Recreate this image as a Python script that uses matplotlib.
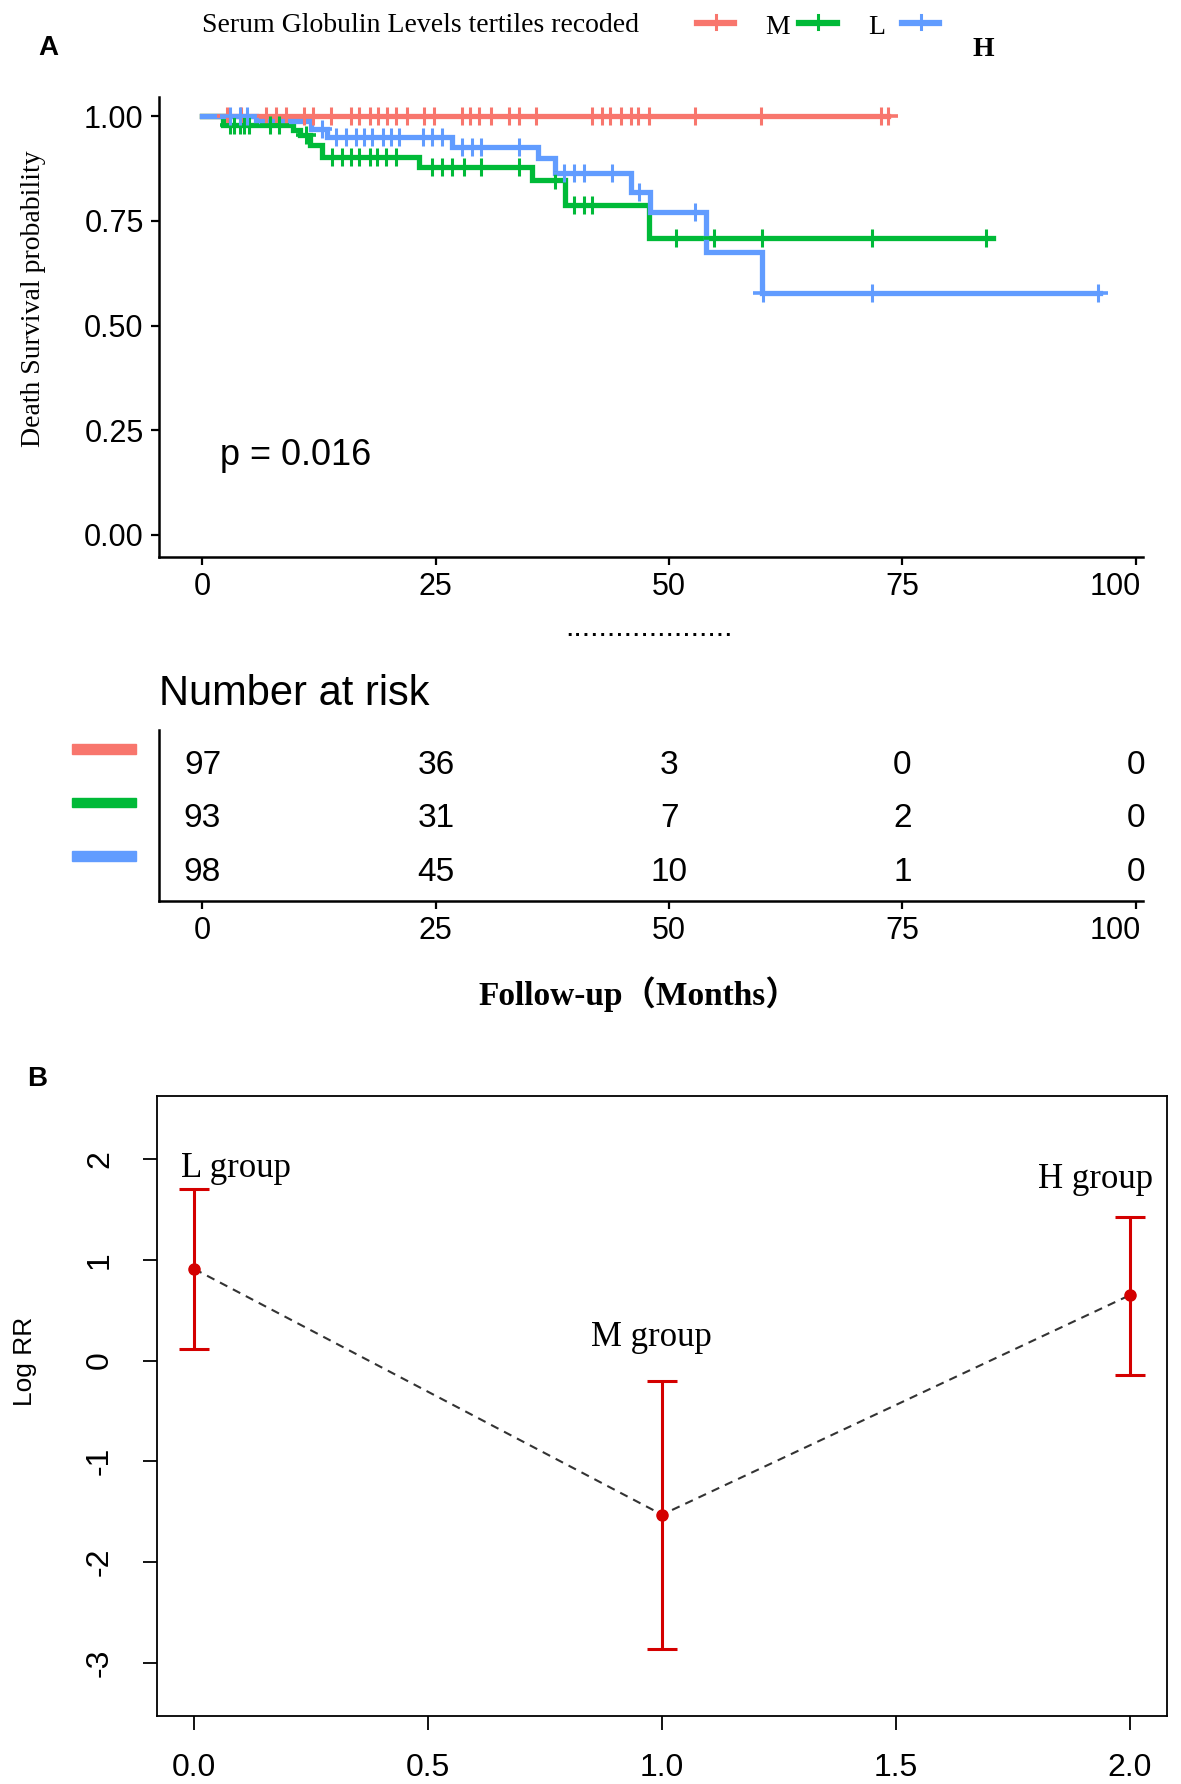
import numpy as np
import matplotlib
matplotlib.use("Agg")
import matplotlib.pyplot as plt
from matplotlib.lines import Line2D
from matplotlib.patches import Rectangle
from matplotlib.ticker import FuncFormatter
import matplotlib.transforms as mtransforms

plt.rcParams['font.family'] = ['Liberation Sans', 'DejaVu Sans']

# ---------------- data: Kaplan-Meier (panel A) ----------------
groups = ["M", "L", "H"]
colors = {"M": "#F8766D", "L": "#00BA38", "H": "#619CFF"}

m_times = [0.0]
m_surv = [1.0]
m_end = 73.5
m_censor = [2.6, 4.1, 6.8, 7.9, 9.0, 10.9, 11.8, 13.8, 15.9, 16.8, 17.9, 18.8, 19.8,
            20.7, 21.9, 23.7, 24.8, 27.8, 28.7, 29.6, 30.9, 32.8, 33.9, 35.7, 41.7,
            42.8, 43.7, 44.8, 45.9, 46.7, 47.8, 52.8, 59.8, 72.7, 73.5]

l_times = [0.0, 2.2, 9.7, 10.5, 11.5, 12.8, 23.2, 35.3, 38.8, 47.8]
l_surv = [1.0, 0.978, 0.967, 0.956, 0.930, 0.903, 0.879, 0.847, 0.788, 0.709]
l_end = 84.7
l_censor = [2.9, 3.4, 4.0, 4.5, 5.0, 7.2, 8.2, 11.1, 13.9, 15.0, 15.9, 16.8, 17.9,
            18.7, 19.7, 20.7, 24.6, 25.7, 26.7, 28.0, 29.8, 33.9, 37.8, 39.8, 40.9,
            41.7, 50.7, 54.8, 60.0, 71.7, 84.0]

h_times = [0.0, 5.7, 11.6, 13.3, 26.7, 36.0, 37.8, 45.9, 48.0, 53.9, 59.9]
h_surv = [1.0, 0.989, 0.970, 0.951, 0.927, 0.900, 0.864, 0.820, 0.772, 0.676, 0.577]
h_end = 96.2
h_censor = [2.9, 4.0, 4.8, 12.8, 14.3, 15.4, 16.4, 17.3, 18.2, 19.3, 20.2, 21.1,
            23.6, 24.6, 25.7, 27.8, 28.9, 29.8, 33.9, 38.7, 39.8, 40.9, 43.9, 46.8,
            52.8, 60.1, 71.7, 96.0]

p_text = "p = 0.016"

risk_times = [0, 25, 50, 75, 100]
risk_M = [97, 36, 3, 0, 0]
risk_L = [93, 31, 7, 2, 0]
risk_H = [98, 45, 10, 1, 0]

# ---------------- data: Log RR (panel B) ----------------
rr_x = [0, 1, 2]
rr_labels = ["L group", "M group", "H group"]
rr_est = [0.91, -1.53, 0.65]
rr_low = [0.11, -2.86, -0.14]
rr_high = [1.70, -0.20, 1.43]

km = {
    "M": (m_times, m_surv, m_end, m_censor),
    "L": (l_times, l_surv, l_end, l_censor),
    "H": (h_times, h_surv, h_end, h_censor),
}
risk = {"M": risk_M, "L": risk_L, "H": risk_H}

W, H = 1181, 1784
fig = plt.figure(figsize=(W / 100, H / 100), dpi=100)

def box(l, t, r, b):
    return [l / W, 1 - b / H, (r - l) / W, (b - t) / H]

serif = ['Liberation Serif', 'DejaVu Serif']

def shift_last_xlabel(ax):
    labs = ax.get_xticklabels()
    labs[-1].set_ha('right')
    labs[-1].set_transform(labs[-1].get_transform() +
                           mtransforms.ScaledTranslation(5 / 100, 0, fig.dpi_scale_trans))

# ---------------- Panel A: KM ----------------
axA = fig.add_axes(box(159, 96.5, 1143.3, 556.7))
for g in ["M", "L", "H"]:
    t, s, end, cens = km[g]
    tt = list(t) + [end]
    ss = list(s) + [s[-1]]
    axA.step(tt, ss, where='post', color=colors[g], lw=3.8, solid_joinstyle='miter', zorder=3)
    tarr = np.asarray(t)
    cy = [s[np.searchsorted(tarr, c, side='right') - 1] for c in cens]
    axA.plot(cens, cy, ls='none', marker='|', ms=13, mew=2.2, color=colors[g], zorder=4)
    axA.plot(cens, cy, ls='none', marker='_', ms=14, mew=2.6, color=colors[g], zorder=4)

axA.set_xlim(-4.66, 100.8)
axA.set_ylim(-0.052, 1.047)
axA.set_xticks([0, 25, 50, 75, 100])
axA.set_yticks([0, 0.25, 0.5, 0.75, 1.0])
axA.yaxis.set_major_formatter(FuncFormatter(lambda v, p: f"{v:.2f}"))
for sp in ['top', 'right']:
    axA.spines[sp].set_visible(False)
for sp in ['left', 'bottom']:
    axA.spines[sp].set_linewidth(1.8)
axA.tick_params(labelsize=22, length=6, width=1.6, pad=5, color='black')
shift_last_xlabel(axA)
axA.text(1.9, 0.19, p_text, fontsize=26, ha='left', va='center')
axA.set_ylabel("Death Survival probability", family=serif, fontsize=20, labelpad=14)
axA.yaxis.set_label_coords(-0.115, 0.56)

fig.text(48 / W, 1 - 48 / H, "A", fontsize=20, fontweight='bold', ha='center', va='center')

# legend (manual layout)
fig.text(202 / W, 1 - 25 / H, "Serum Globulin Levels tertiles recoded", family=serif,
         fontsize=20, ha='left', va='center')
leg_pos = {"M": (697, 734, 778, 28), "L": (799, 837, 877, 28), "H": (902, 939, 983, 50)}
for g in groups:
    x0, x1, lx, ly = leg_pos[g]
    fig.add_artist(Line2D([x0 / W, x1 / W], [1 - 23 / H, 1 - 23 / H], color=colors[g], lw=4.5))
    xm = (x0 + x1) / 2 / W
    fig.add_artist(Line2D([xm, xm], [1 - 15 / H, 1 - 29 / H], color=colors[g], lw=2.2))
    fig.text(lx / W, 1 - ly / H, g, family=serif, fontsize=20, ha='center', va='center',
             fontweight='bold' if g == "H" else 'normal')

fig.text(649 / W, 1 - 628 / H, "." * 20, fontsize=22, ha='center', va='center')

# ---------------- Risk table ----------------
axT = fig.add_axes(box(159, 730, 1143.3, 900.5))
axT.set_xlim(-4.66, 100.8)
axT.set_ylim(0.4, 3.6)
rows = {"M": 3, "L": 2, "H": 1}
for g in groups:
    for t, n in zip(risk_times, risk[g]):
        axT.text(t, rows[g], str(n), fontsize=24, ha='center', va='center_baseline')
    axT.add_patch(Rectangle((-0.088, rows[g] + 0.15), 0.0645, 0.18, color=colors[g],
                            transform=axT.get_yaxis_transform(), clip_on=False))
axT.set_xticks([0, 25, 50, 75, 100])
axT.set_yticks([])
for sp in ['top', 'right']:
    axT.spines[sp].set_visible(False)
for sp in ['left', 'bottom']:
    axT.spines[sp].set_linewidth(1.8)
axT.tick_params(labelsize=22, length=6, width=1.6, pad=5)
shift_last_xlabel(axT)
fig.text(159 / W, 1 - 694 / H, "Number at risk", fontsize=30, ha='left', va='center')
fig.text(639 / W, 1 - 994 / H, "Follow-up（Months）", family=['Liberation Serif', 'Noto Sans CJK SC'],
         fontsize=24, fontweight='bold', ha='center', va='center')

# ---------------- Panel B ----------------
axB = fig.add_axes(box(156.7, 1095.9, 1167.4, 1715.9))
red = "#D40000"
axB.plot(rr_x, rr_est, ls=(0, (4, 3)), color='#333333', lw=1.5, zorder=2)
est = np.asarray(rr_est)
axB.errorbar(rr_x, rr_est, yerr=[est - np.asarray(rr_low), np.asarray(rr_high) - est],
             fmt='o', color=red, ms=8, elinewidth=2.2, capsize=11, capthick=2.2, zorder=3)
label_pos = [(0.09, 1.91), (0.977, 0.23), (1.927, 1.80)]
for (lx, ly), lab in zip(label_pos, rr_labels):
    axB.text(lx, ly, lab, family=serif, fontsize=25, ha='center', va='center')
axB.set_xlim(-0.08, 2.08)
axB.set_ylim(-3.528, 2.628)
axB.set_xticks([0, 0.5, 1.0, 1.5, 2.0])
axB.set_yticks([-3, -2, -1, 0, 1, 2])
axB.xaxis.set_major_formatter(FuncFormatter(lambda v, p: f"{v:.1f}"))
axB.yaxis.set_major_formatter(FuncFormatter(lambda v, p: f"{int(round(v))}".replace("\u2212", "-")))
for sp in axB.spines.values():
    sp.set_linewidth(1.3)
axB.tick_params(labelsize=23, length=10, width=1.3)
axB.tick_params(axis='x', pad=17)
axB.tick_params(axis='y', pad=20)
for lab in axB.get_yticklabels():
    lab.set_rotation(90)
    lab.set_va('center')
fig.text(25 / W, 1 - 1361 / H, "Log RR", fontsize=19, rotation=90, ha='center', va='center')
fig.text(37.5 / W, 1 - 1079 / H, "B", fontsize=20, fontweight='bold', ha='center', va='center')

fig.savefig("out.png", dpi=100)
